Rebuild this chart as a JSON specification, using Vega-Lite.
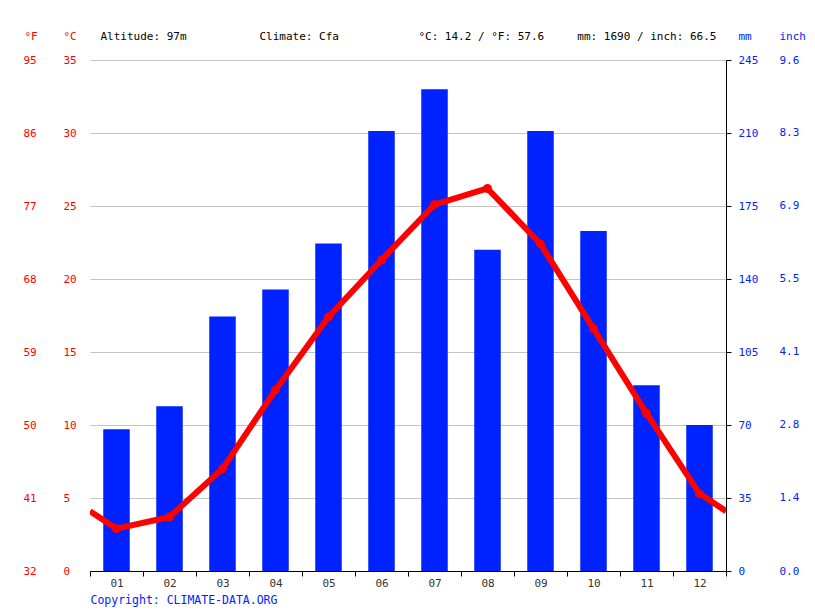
{
  "$schema": "https://vega.github.io/schema/vega-lite/v6.json",
  "autosize": "none",
  "width": 636,
  "height": 511,
  "padding": {"left": 90, "top": 60, "right": 89, "bottom": 40},
  "background": "white",
  "config": {
    "view": {"stroke": null},
    "font": "DejaVu Sans Mono",
    "axis": {"labelFont": "DejaVu Sans Mono", "titleFont": "DejaVu Sans Mono", "labelFontSize": 11, "titleFontSize": 11, "titleFontWeight": "normal"}
  },
  "datasets": {
    "monthly": [
      {"month": "01", "m": 1, "temp": 2.9, "precip": 68},
      {"month": "02", "m": 2, "temp": 3.7, "precip": 79},
      {"month": "03", "m": 3, "temp": 7.0, "precip": 122},
      {"month": "04", "m": 4, "temp": 12.4, "precip": 135},
      {"month": "05", "m": 5, "temp": 17.4, "precip": 157},
      {"month": "06", "m": 6, "temp": 21.3, "precip": 211},
      {"month": "07", "m": 7, "temp": 25.1, "precip": 231},
      {"month": "08", "m": 8, "temp": 26.2, "precip": 154},
      {"month": "09", "m": 9, "temp": 22.4, "precip": 211},
      {"month": "10", "m": 10, "temp": 16.6, "precip": 163},
      {"month": "11", "m": 11, "temp": 10.8, "precip": 89},
      {"month": "12", "m": 12, "temp": 5.3, "precip": 70}
    ],
    "tline": [
      {"m": 0.5, "temp": 4.1},
      {"m": 1, "temp": 2.9},
      {"m": 2, "temp": 3.7},
      {"m": 3, "temp": 7.0},
      {"m": 4, "temp": 12.4},
      {"m": 5, "temp": 17.4},
      {"m": 6, "temp": 21.3},
      {"m": 7, "temp": 25.1},
      {"m": 8, "temp": 26.2},
      {"m": 9, "temp": 22.4},
      {"m": 10, "temp": 16.6},
      {"m": 11, "temp": 10.8},
      {"m": 12, "temp": 5.3},
      {"m": 12.5, "temp": 4.1}
    ]
  },
  "data": {"name": "monthly"},
  "layer": [
    {
      "mark": {"type": "point", "opacity": 0},
      "encoding": {
        "x": {
          "datum": 0, "type": "quantitative",
          "scale": {"domain": [0, 1], "nice": false},
          "axis": {
            "orient": "top", "domain": false, "ticks": false, "labels": false, "grid": false,
            "title": "Altitude: 97m\u00a0\u00a0\u00a0\u00a0\u00a0\u00a0\u00a0\u00a0\u00a0\u00a0\u00a0Climate: Cfa\u00a0\u00a0\u00a0\u00a0\u00a0\u00a0\u00a0\u00a0\u00a0\u00a0\u00a0\u00a0°C: 14.2 / °F: 57.6\u00a0\u00a0\u00a0\u00a0\u00a0mm: 1690 / inch: 66.5",
            "titleColor": "#000000", "titleAlign": "left", "titleBaseline": "alphabetic",
            "titleX": 10, "titleY": -21
          }
        },
        "y": {
          "datum": 50, "type": "quantitative",
          "scale": {"domain": [32, 95], "nice": false, "zero": false},
          "axis": {
            "orient": "left", "values": [32, 41, 50, 59, 68, 77, 86, 95],
            "grid": false, "domain": false, "ticks": false, "tickSize": 0,
            "labelAlign": "left", "labelPadding": 67, "labelColor": "#ff0000",
            "title": "°F", "titleColor": "#ff0000", "titleAngle": 0,
            "titleAlign": "left", "titleBaseline": "alphabetic", "titleX": -66, "titleY": -21
          }
        }
      }
    },
    {
      "mark": {"type": "point", "opacity": 0},
      "encoding": {
        "y": {
          "datum": 1, "type": "quantitative",
          "scale": {"domain": [0, 9.6457], "nice": false, "zero": false},
          "axis": {
            "orient": "right", "values": [0, 1.378, 2.756, 4.134, 5.512, 6.890, 8.268, 9.6457],
            "format": ".1f",
            "grid": false, "domain": false, "ticks": false, "tickSize": 0,
            "labelAlign": "left", "labelPadding": 53, "labelColor": "#0022ff",
            "title": "inch", "titleColor": "#0022ff", "titleAngle": 0,
            "titleAlign": "left", "titleBaseline": "alphabetic", "titleX": 53, "titleY": -21
          }
        }
      }
    },
    {
      "mark": {"type": "bar", "color": "#0022ff", "width": {"band": 0.5}},
      "encoding": {
        "x": {
          "field": "month", "type": "ordinal",
          "scale": {"paddingInner": 0, "paddingOuter": 0},
          "axis": {
            "labelAngle": 0, "tickBand": "extent", "domainColor": "#000000", "tickColor": "#000000",
            "tickSize": 5, "labelColor": "#333333", "labelPadding": 1,
            "title": "Copyright: CLIMATE-DATA.ORG", "titleColor": "#0022ff", "titleFontSize": 11.5,
            "titleAnchor": "start", "titleAlign": "left", "titleBaseline": "middle", "titleX": 0, "titleY": 29
          }
        },
        "y": {
          "field": "precip", "type": "quantitative",
          "scale": {"domain": [0, 245], "nice": false},
          "axis": {
            "orient": "right", "values": [0, 35, 70, 105, 140, 175, 210, 245],
            "grid": false, "domain": true, "domainColor": "#000000", "ticks": true, "tickColor": "#000000", "tickSize": 5,
            "labelAlign": "left", "labelPadding": 7, "labelColor": "#0022ff",
            "title": "mm", "titleColor": "#0022ff", "titleAngle": 0,
            "titleAlign": "left", "titleBaseline": "alphabetic", "titleX": 12, "titleY": -21
          }
        }
      }
    },
    {
      "data": {"name": "tline"},
      "mark": {"type": "line", "color": "#ff0000", "strokeWidth": 6, "clip": true, "strokeJoin": "round"},
      "encoding": {
        "x": {"field": "m", "type": "quantitative", "scale": {"domain": [0.5, 12.5], "nice": false, "zero": false}, "axis": null},
        "y": {
          "field": "temp", "type": "quantitative",
          "scale": {"domain": [0, 35], "nice": false},
          "axis": {
            "orient": "left", "values": [0, 5, 10, 15, 20, 25, 30, 35],
            "grid": true, "gridColor": "#c4c4c4", "gridWidth": 1,
            "domain": false, "ticks": false, "tickSize": 0,
            "labelAlign": "left", "labelPadding": 27, "labelColor": "#ff0000",
            "title": "°C", "titleColor": "#ff0000", "titleAngle": 0,
            "titleAlign": "left", "titleBaseline": "alphabetic", "titleX": -27, "titleY": -21
          }
        }
      }
    },
    {
      "mark": {"type": "circle", "color": "#ff0000", "size": 80, "opacity": 1},
      "encoding": {
        "x": {"field": "m", "type": "quantitative", "scale": {"domain": [0.5, 12.5], "nice": false, "zero": false}, "axis": null},
        "y": {"field": "temp", "type": "quantitative", "scale": {"domain": [0, 35], "nice": false}, "axis": null}
      }
    }
  ],
  "resolve": {"scale": {"x": "independent", "y": "independent"}}
}
